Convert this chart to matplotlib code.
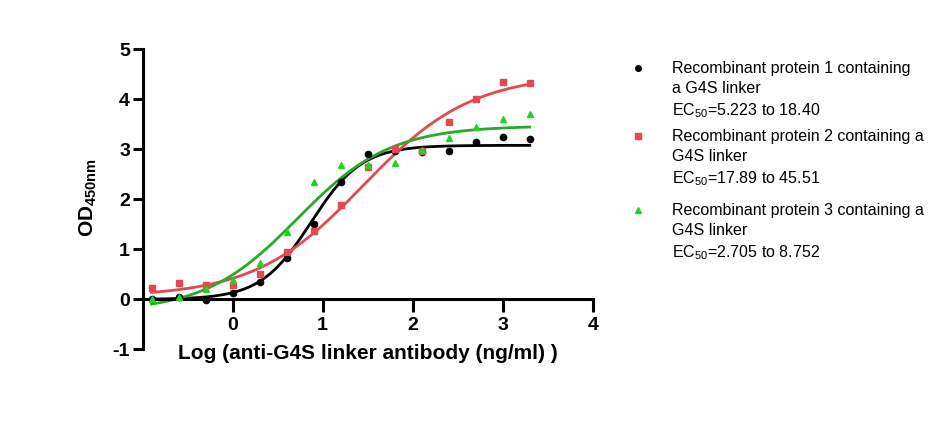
import matplotlib
matplotlib.use("Agg")
import matplotlib.pyplot as plt
import numpy as np
from matplotlib.lines import Line2D

plt.rcParams['font.family'] = ['Liberation Sans', 'DejaVu Sans']
plt.rcParams['mathtext.default'] = 'regular'
plt.rcParams['axes.unicode_minus'] = False

# log concentration (ng/ml)
logx = [-0.9, -0.6, -0.3, 0.0, 0.3, 0.6, 0.9, 1.2, 1.5, 1.8, 2.1, 2.4, 2.7, 3.0, 3.3]

# OD450 values
od_p1 = [0.00, 0.05, -0.01, 0.12, 0.35, 0.82, 1.50, 2.35, 2.90, 2.96, 2.95, 2.96, 3.14, 3.24, 3.20]
od_p2 = [0.23, 0.32, 0.29, 0.29, 0.50, 0.95, 1.37, 1.89, 2.64, 3.00, 2.97, 3.54, 4.00, 4.34, 4.32]
od_p3 = [0.00, 0.05, 0.20, 0.39, 0.72, 1.35, 2.34, 2.69, 2.69, 2.72, 2.99, 3.22, 3.44, 3.60, 3.70]

# 4PL fit parameters (bottom, top, logEC50, hill) estimated from the curves
fit_p1 = (0.0, 3.08, 0.871, 1.54)
fit_p2 = (0.05, 4.50, 1.45, 0.72)
fit_p3 = (-0.25, 3.47, 0.718, 0.8425)

names = [
    "Recombinant protein 1 containing\na G4S linker",
    "Recombinant protein 2 containing a\nG4S linker",
    "Recombinant protein 3 containing a\nG4S linker",
]
ec50_text = [
    "EC$_{50}$=5.223 to 18.40",
    "EC$_{50}$=17.89 to 45.51",
    "EC$_{50}$=2.705 to 8.752",
]


def fourpl(x, p):
    bottom, top, logec50, hill = p
    return bottom + (top - bottom) / (1 + 10 ** ((logec50 - x) * hill))


W, H = 950, 425
fig = plt.figure(figsize=(9.5, 4.25), dpi=100)
ax = fig.add_axes([0.150, 0.178, 0.474, 0.706])

xs = np.linspace(logx[0], logx[-1], 300)
series = [
    (od_p1, fit_p1, 'black', 'black', 'o', 4.5),
    (od_p2, fit_p2, '#e5484f', '#e5484f', 's', 5),
    (od_p3, fit_p3, '#22d422', '#2aa82a', '^', 5),
]
for od, p, mc, lc, mk, ms in series:
    ax.plot(xs, fourpl(xs, p), color=lc, linewidth=2, zorder=2)
for od, p, mc, lc, mk, ms in series:
    ax.plot(logx, od, linestyle='none', marker=mk, color=mc, markersize=ms, zorder=3)

ax.set_xlim(-1, 4)
ax.set_ylim(-1, 5)
ax.spines['top'].set_visible(False)
ax.spines['right'].set_visible(False)
ax.spines['bottom'].set_position(('data', 0))
ax.spines['left'].set_linewidth(2.2)
ax.spines['bottom'].set_linewidth(2.2)
ax.set_xticks([0, 1, 2, 3, 4])
ax.set_yticks([-1, 0, 1, 2, 3, 4, 5])
ax.tick_params(axis='x', length=9, width=2.2, direction='out', labelsize=14, pad=4)
ax.tick_params(axis='y', length=7, width=2.2, direction='out', labelsize=14, pad=2)
for t in ax.get_xticklabels() + ax.get_yticklabels():
    t.set_fontweight('bold')

fig.text(0.387, 0.168, "Log (anti-G4S linker antibody (ng/ml) )", ha='center', va='center',
         fontsize=15, fontweight='bold')
fig.text(0.093, 0.535, "OD$_{450nm}$", rotation=90, ha='center', va='center',
         fontsize=15, fontweight='bold')

# legend drawn by hand, positions in pixels from the top
first_line_px = [68, 136, 210]
line_step = 21
for (od, p, mc, lc, mk, ms), nm, ec, y0 in zip(series, names, ec50_text, first_line_px):
    fig.add_artist(Line2D([638 / W], [1 - y0 / H], marker=mk, color=mc, markersize=ms - 0.5,
                          linestyle='none', transform=fig.transFigure))
    fig.text(672 / W, 1 - (y0 - 7) / H, nm, ha='left', va='top', fontsize=11.5, linespacing=1.45)
    fig.text(672 / W, 1 - (y0 + 2 * line_step + 1) / H, ec, ha='left', va='center', fontsize=11.5)

fig.savefig("out.png", dpi=100)
